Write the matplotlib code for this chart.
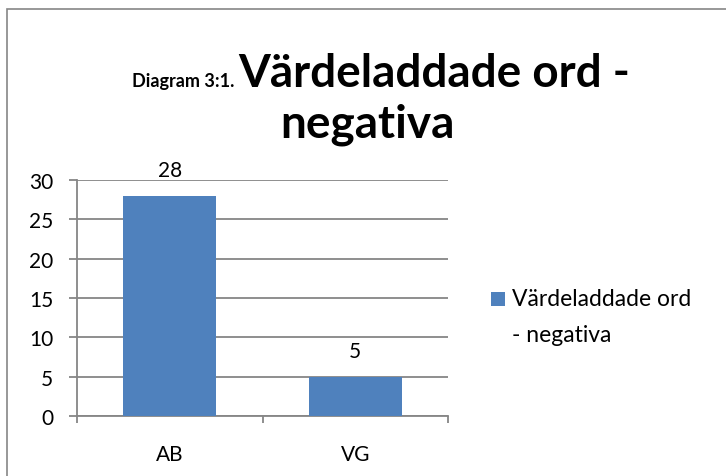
import matplotlib.pyplot as plt
from matplotlib.patches import Rectangle

# data
categories = ['AB', 'VG']
values = [28, 5]
series_name = 'Värdeladdade ord - negativa'
yticks = [0, 5, 10, 15, 20, 25, 30]

W, H = 726, 477
plt.rcParams['font.family'] = ['Lato', 'DejaVu Sans']
grey = '#868686'
blue = '#4F81BD'

fig = plt.figure(figsize=(W / 100, H / 100), dpi=100)
ax = fig.add_axes([77 / W, 1 - 417 / H, (448 - 77) / W, (417 - 181) / H])

xs = list(range(len(categories)))
bars = ax.bar(xs, values, width=0.5, color=blue, zorder=3)
ax.bar_label(bars, labels=[str(v) for v in values], padding=11, fontsize=15)

ax.set_xlim(-0.5, len(categories) - 0.5)
ax.set_ylim(0, 30)
ax.set_yticks(yticks)
ax.yaxis.grid(True, color=grey, linewidth=1.3, zorder=0)
ax.tick_params(axis='y', length=6, width=1.3, color=grey, pad=11, labelsize=15)

ax.set_xticks(xs)
ax.set_xticklabels(categories)
ax.set_xticks([x - 0.5 for x in range(len(categories) + 1)], minor=True)
ax.tick_params(axis='x', which='major', length=0, pad=20, labelsize=15)
ax.tick_params(axis='x', which='minor', length=5, width=1.3, color=grey)

for s in ['top', 'right']:
    ax.spines[s].set_visible(False)
for s in ['left', 'bottom']:
    ax.spines[s].set_color(grey)
    ax.spines[s].set_linewidth(1.3)

# chart border (cropped at right and bottom)
fig.patches.append(Rectangle((7 / W, -0.1), 1.2, 1 - 10 / H + 0.1, transform=fig.transFigure,
                             fill=False, edgecolor=grey, linewidth=1.2))

# title: small prefix + big text on line 1, then second line
fig.canvas.draw()
r = fig.canvas.get_renderer()
t_small = fig.text(0, 1 - 87 / H, 'Diagram 3:1.', fontsize=13, fontweight='bold', va='baseline')
t_big = fig.text(0, 1 - 87 / H, 'Värdeladdade ord -', fontsize=33, fontweight='bold', va='baseline')
ws = t_small.get_window_extent(r).width
wb = t_big.get_window_extent(r).width
gap = 3
x0 = 381 - (ws + gap + wb) / 2
t_small.set_x(x0 / W)
t_big.set_x((x0 + ws + gap) / W)
fig.text(367 / W, 1 - 137 / H, 'negativa', fontsize=33, fontweight='bold', ha='center', va='baseline')

# legend
fig.patches.append(Rectangle((491 / W, 1 - 307 / H), 14 / W, 14 / H, transform=fig.transFigure,
                             facecolor=blue, edgecolor='none'))
name1, name2 = series_name.split(' - ')
fig.text(512 / W, 1 - 300 / H, name1, fontsize=16.5, va='center')
fig.text(512 / W, 1 - 335 / H, '- ' + name2, fontsize=16.5, va='center')

fig.savefig('out.png', dpi=100)
